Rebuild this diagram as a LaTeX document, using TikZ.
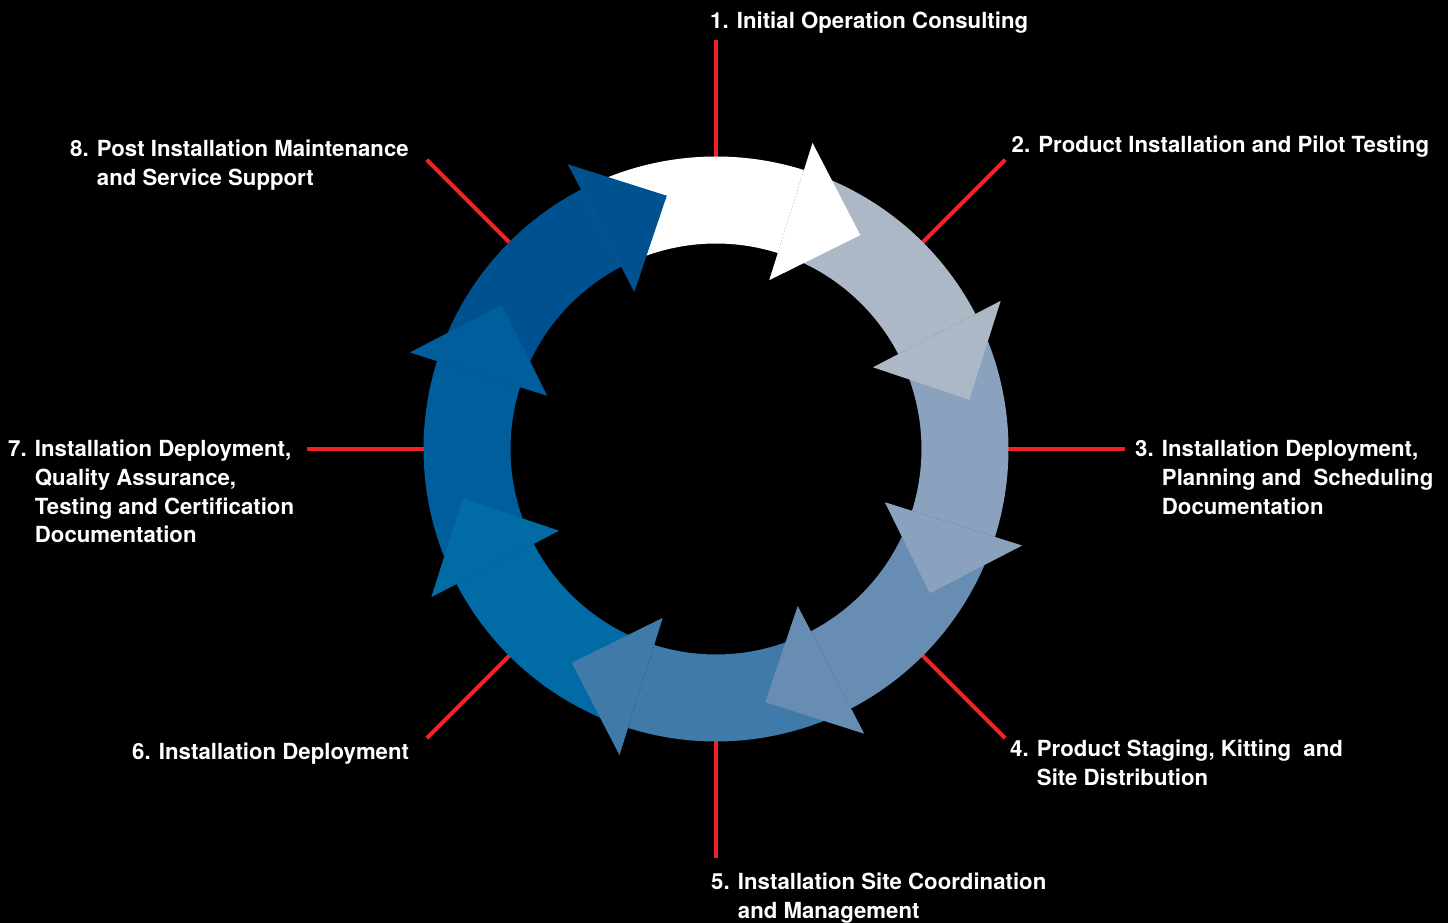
\documentclass[tikz,border=0pt]{standalone}
\usepackage{fontspec}
\setmainfont{TeX Gyre Heros}
\definecolor{cA}{HTML}{FFFFFF}
\definecolor{cB}{HTML}{ADB8C7}
\definecolor{cC}{HTML}{8AA2BD}
\definecolor{cD}{HTML}{688DB3}
\definecolor{cE}{HTML}{407AA8}
\definecolor{cF}{HTML}{006BA4}
\definecolor{cG}{HTML}{005E9D}
\definecolor{cH}{HTML}{00518F}
\definecolor{redline}{HTML}{F02228}
\tikzset{
  lbl/.style={anchor=base west, inner sep=0pt, align=left, text=white,
    font=\fontsize{22.2}{28.7}\selectfont\bfseries},
  spoke/.style={draw=redline, line width=4pt},
}
\newcommand{\hg}{\phantom{0. }}
\begin{document}
\begin{tikzpicture}[x=1pt,y=1pt]
\fill[black] (0,0) rectangle (1448,923);
\useasboundingbox (0,0) rectangle (1448,923);
\begin{scope}[shift={(716,474)}]
  % red spokes
  \foreach \i in {0,...,7}{
    \coordinate (s\i a) at (90-45*\i:292);
    \coordinate (s\i b) at (90-45*\i:409);
    \draw[spoke] (s\i a) -- (s\i b);
  }
  % bodies
  \foreach \k/\c in {1/cA,2/cB,3/cC,4/cD,5/cE,6/cF,7/cG,8/cH}{
    \pgfmathsetmacro{\a}{72.5-45*(\k-1)}
    \pgfmathsetmacro{\b}{\a+45}
    \fill[\c] (\a:292.5) arc[start angle=\a, end angle=\b, radius=292.5]
      -- (\b:205.5) arc[start angle=\b, end angle=\a, radius=205.5] -- cycle;
  }
  % heads
  \foreach \k/\c in {1/cA,2/cB,3/cC,4/cD,5/cE,6/cF,7/cG,8/cH}{
    \pgfmathsetmacro{\a}{72.5-45*(\k-1)}
    \pgfmathsetmacro{\t}{\a-16.5}
    \fill[\c] (\a:177) -- (\a:321) -- (\t:258) -- cycle;
  }
\end{scope}
\node[lbl] (l1) at (710,894.5) {1. Initial Operation Consulting};
\node[lbl] (l2) at (1011.5,770) {2. Product Installation and Pilot Testing};
\node[lbl] (l3) at (1135,408.6) {3. Installation Deployment,\\\hg Planning and\ \ Scheduling\\\hg Documentation};
\node[lbl] (l4) at (1010,137.3) {4. Product Staging, Kitting\ \ and\\\hg Site Distribution};
\node[lbl] (l5) at (711,4.3) {5. Installation Site Coordination\\\hg and Management};
\node[lbl] (l6) at (132,163) {6. Installation Deployment};
\node[lbl] (l7) at (8,380.2) {7. Installation Deployment,\\\hg Quality Assurance,\\\hg Testing and Certification\\\hg Documentation};
\node[lbl] (l8) at (70,737.3) {8. Post Installation Maintenance\\\hg and Service Support};
\end{tikzpicture}
\end{document}
